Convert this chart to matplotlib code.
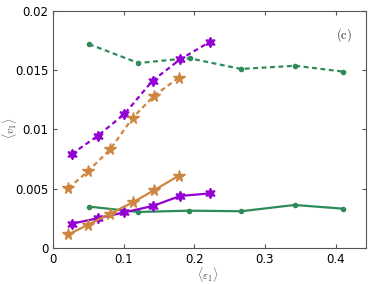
import matplotlib
matplotlib.use("Agg")
import matplotlib.pyplot as plt

plt.rcParams["mathtext.fontset"] = "cm"

# green series (dots)
green_dash_x = [0.051, 0.121, 0.180, 0.194, 0.266, 0.343, 0.411]
green_dash_y = [0.0172, 0.01561, 0.01595, 0.0160, 0.01511, 0.01538, 0.01488]
green_x = [0.051, 0.121, 0.193, 0.266, 0.342, 0.410]
green_solid_y = [0.00349, 0.00304, 0.00315, 0.0031, 0.00363, 0.00332]

# purple series (6-point stars)
purple_x = [0.0265, 0.063, 0.101, 0.141, 0.180, 0.2225]
purple_dash_y = [0.00793, 0.00945, 0.0113, 0.01412, 0.01592, 0.01741]
purple_solid_y = [0.00205, 0.0025, 0.00301, 0.00354, 0.00439, 0.00461]

# orange series (5-point stars)
orange_x = [0.0217, 0.050, 0.081, 0.113, 0.143, 0.178]
orange_dash_y = [0.00504, 0.0065, 0.00833, 0.0110, 0.01285, 0.01437]
orange_solid_y = [0.00115, 0.00197, 0.0029, 0.00385, 0.00487, 0.0061]

green = "#2e8b57"
purple = "#9400d3"
orange = "#cd853f"

fig = plt.figure(figsize=(3.74, 2.84), dpi=100)
ax = fig.add_axes([0.1417, 0.1268, 0.8369, 0.8345])

dash = (2.2, 1.6)
ax.plot(green_dash_x, green_dash_y, "--", color=green, lw=1.6, dashes=dash, marker="o", ms=3)
ax.plot(green_x, green_solid_y, "-", color=green, lw=1.6, marker="o", ms=3)
ax.plot(purple_x, purple_dash_y, "--", color=purple, lw=1.6, dashes=dash, marker=(6, 1, 0), ms=7.5)
ax.plot(purple_x, purple_solid_y, "-", color=purple, lw=1.6, marker=(6, 1, 0), ms=7.5)
ax.plot(orange_x, orange_dash_y, "--", color=orange, lw=1.6, dashes=dash, marker="*", ms=8.5)
ax.plot(orange_x, orange_solid_y, "-", color=orange, lw=1.6, marker="*", ms=8.5)

ax.set_xlim(0, 0.443)
ax.set_ylim(0, 0.02)
ax.set_xticks([0, 0.1, 0.2, 0.3, 0.4])
ax.set_xticklabels(["0", "0.1", "0.2", "0.3", "0.4"])
ax.set_yticks([0, 0.005, 0.01, 0.015, 0.02])
ax.set_yticklabels(["0", "0.005", "0.01", "0.015", "0.02"])
ax.tick_params(direction="in", top=True, right=True, labelsize=8.5, length=3,
               color="#555555")
for s in ax.spines.values():
    s.set_color("#555555")

ax.set_xlabel(r"$\langle \varepsilon_1 \rangle$", fontsize=8, color="#444444")
ax.set_ylabel(r"$\langle v_1 \rangle$", fontsize=8, color="#444444")
ax.xaxis.set_label_coords(0.495, -0.072)
ax.yaxis.set_label_coords(-0.11, 0.506)
ax.text(0.93, 0.9, r"$(\mathrm{c})$", transform=ax.transAxes, fontsize=9,
        ha="center", va="center", color="#333333")

fig.savefig("out.png", dpi=100)
